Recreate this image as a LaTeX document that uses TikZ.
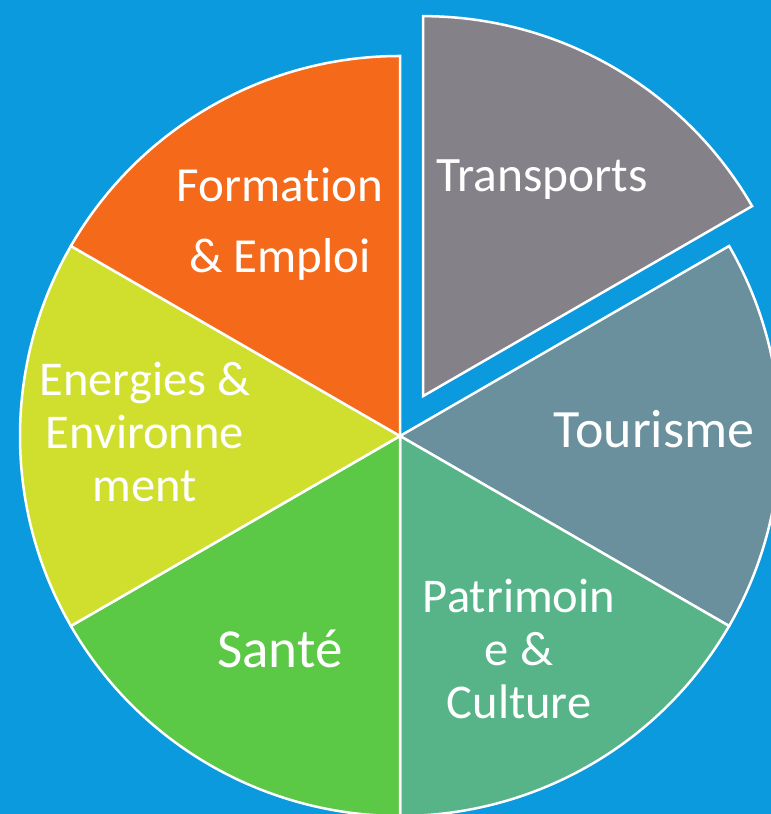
\documentclass[tikz,border=0pt]{standalone}
\usepackage{fontspec}
\setmainfont{Carlito}[Ligatures=NoCommon]
\usetikzlibrary{calc}
\definecolor{bgblue}{HTML}{0B9ADD}
\definecolor{ctrans}{HTML}{848288}
\definecolor{ctour}{HTML}{6A8F9D}
\definecolor{cpatr}{HTML}{57B488}
\definecolor{csante}{HTML}{5BC846}
\definecolor{cener}{HTML}{D0DF2E}
\definecolor{cform}{HTML}{F46A1A}
\tikzset{
  slice/.style={draw=white, line width=2.5pt, line join=miter},
  lbl/.style={text=white, inner sep=0pt, anchor=base, align=center},
}
\begin{document}
\begin{tikzpicture}[x=1pt,y=1pt]
\useasboundingbox (0,0) rectangle (771,814);
\fill[bgblue] (0,0) rectangle (771,814);
\clip (0,0) rectangle (771,814);
\coordinate (C) at (400,378);
\def\R{380}
% slices
\filldraw[slice, fill=ctour] (C) -- ++(-30:\R) arc[start angle=-30, end angle=30, radius=\R] -- cycle;
\filldraw[slice, fill=cpatr] (C) -- ++(-90:\R) arc[start angle=-90, end angle=-30, radius=\R] -- cycle;
\filldraw[slice, fill=csante] (C) -- ++(-150:\R) arc[start angle=-150, end angle=-90, radius=\R] -- cycle;
\filldraw[slice, fill=cener] (C) -- ++(150:\R) arc[start angle=150, end angle=210, radius=\R] -- cycle;
\filldraw[slice, fill=cform] (C) -- ++(90:\R) arc[start angle=90, end angle=150, radius=\R] -- cycle;
\coordinate (T) at ($(C)+(60:46)$);
\filldraw[slice, fill=ctrans] (T) -- ++(30:\R) arc[start angle=30, end angle=90, radius=\R] -- cycle;
% labels (base anchor = baseline of last line)
\node[lbl, font=\fontsize{49.5}{58}\selectfont] (ltrans) at (542,622) {Transports};
\node[lbl, font=\fontsize{54}{60}\selectfont] (ltour) at (654,366) {Tourisme};
\node[lbl, font=\fontsize{49}{71}\selectfont] (lform) at (280,541) {Formation\\\& Emploi};
\node[lbl, font=\fontsize{48.5}{53}\selectfont] (lener) at (145,312) {Energies \&\\Environne\\ment};
\node[lbl, font=\fontsize{55}{60}\selectfont] (lsante) at (280,146) {Santé};
\node[lbl, font=\fontsize{48.5}{53}\selectfont] (lpatr) at (519,95) {Patrimoin\\e \&\\Culture};
\end{tikzpicture}
\end{document}
